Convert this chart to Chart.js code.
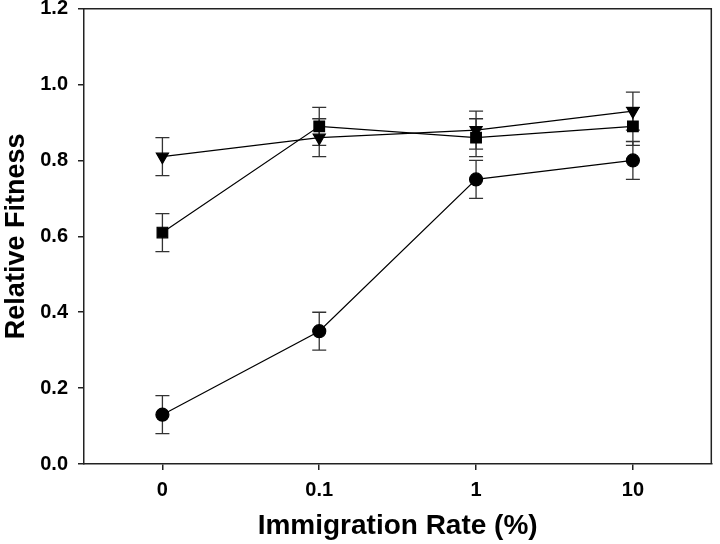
<!DOCTYPE html>
<html>
<head>
<meta charset="utf-8">
<script src="https://cdn.jsdelivr.net/npm/chart.js@4/dist/chart.umd.min.js"></script>
<style>
  html, body { margin: 0; padding: 0; background: #fff; }
  #wrap { width: 720px; height: 544px; }
</style>
</head>
<body>
<div id="wrap"><canvas id="myChart"></canvas></div>
<script>
// Data
const rates = ["0", "0.1", "1", "10"];
const circleVals = [0.13, 0.35, 0.75, 0.80];
const circleErr = [0.05, 0.05, 0.05, 0.05];
const squareVals = [0.61, 0.89, 0.86, 0.89];
const squareErr = [0.05, 0.05, 0.05, 0.05];
const triangleVals = [0.81, 0.86, 0.88, 0.93];
const triangleErr = [0.05, 0.05, 0.05, 0.05];
const yTicks = [0, 0.2, 0.4, 0.6, 0.8, 1.0, 1.2];

const axisColor = '#222';

// error bars + top/right frame
const errorBars = {
  id: 'errorBars',
  beforeDatasetsDraw(chart) {
    const ctx = chart.ctx;
    const yScale = chart.scales.y;
    ctx.save();
    ctx.strokeStyle = '#333';
    ctx.lineWidth = 1.3;
    chart.data.datasets.forEach((ds, i) => {
      const meta = chart.getDatasetMeta(i);
      meta.data.forEach((pt, j) => {
        const v = ds.data[j];
        const e = ds.errors[j];
        const yTop = yScale.getPixelForValue(v + e);
        const yBot = yScale.getPixelForValue(v - e);
        const x = pt.x;
        ctx.beginPath();
        ctx.moveTo(x, yTop); ctx.lineTo(x, yBot);
        ctx.moveTo(x - 7, yTop); ctx.lineTo(x + 7, yTop);
        ctx.moveTo(x - 7, yBot); ctx.lineTo(x + 7, yBot);
        ctx.stroke();
      });
    });
    ctx.restore();
  },
  afterDraw(chart) {
    const {left, right, top, bottom} = chart.chartArea;
    const ctx = chart.ctx;
    ctx.save();
    ctx.strokeStyle = axisColor;
    ctx.lineWidth = 1.5;
    ctx.beginPath();
    ctx.moveTo(left, top); ctx.lineTo(right, top); ctx.lineTo(right, bottom);
    ctx.stroke();
    ctx.restore();
  }
};

const common = {
  borderColor: '#000',
  backgroundColor: '#000',
  pointBackgroundColor: '#000',
  pointBorderColor: '#000',
  borderWidth: 1.2,
  fill: false,
  tension: 0
};

new Chart(document.getElementById('myChart'), {
  type: 'line',
  data: {
    labels: rates,
    datasets: [
      Object.assign({ label: 'circle', data: circleVals, errors: circleErr, pointStyle: 'circle', pointRadius: 6.5 }, common),
      Object.assign({ label: 'square', data: squareVals, errors: squareErr, pointStyle: 'rect', pointRadius: 7.5 }, common),
      Object.assign({ label: 'triangle', data: triangleVals, errors: triangleErr, pointStyle: 'triangle', pointRadius: 7, rotation: 180 }, common)
    ]
  },
  options: {
    responsive: true,
    maintainAspectRatio: false,
    animation: false,
    layout: { padding: { top: 8, right: 3, left: 0, bottom: 0 } },
    plugins: { legend: { display: false }, tooltip: { enabled: false } },
    scales: {
      x: {
        type: 'category',
        offset: true,
        afterFit: s => { s.height = 80; s.paddingLeft = 0; s.paddingRight = 0; },
        grid: { drawOnChartArea: false, tickLength: 6, color: axisColor, lineWidth: 1.5 },
        border: { color: axisColor, width: 1.5 },
        ticks: { color: '#000', padding: 10, font: { family: 'Liberation Sans, Arial', size: 20, weight: 'bold', lineHeight: 1 } },
        title: { display: true, text: 'Immigration Rate (%)', color: '#000', padding: { top: 0, bottom: 1 },
          font: { family: 'Liberation Sans, Arial', size: 28, weight: 'bold' } }
      },
      y: {
        min: 0,
        max: 1.2,
        afterFit: s => { s.width = 84; s.paddingTop = 0; s.paddingBottom = 0; },
        afterBuildTicks: s => { s.ticks = yTicks.map(v => ({ value: v })); },
        grid: { drawOnChartArea: false, tickLength: 6, color: axisColor, lineWidth: 1.5 },
        border: { color: axisColor, width: 1.5 },
        ticks: { color: '#000', padding: 10, callback: v => v.toFixed(1),
          font: { family: 'Liberation Sans, Arial', size: 20, weight: 'bold', lineHeight: 1 } },
        title: { display: true, text: 'Relative Fitness', color: '#000', padding: { top: 0, bottom: 0 },
          font: { family: 'Liberation Sans, Arial', size: 27, weight: 'bold' } }
      }
    }
  },
  plugins: [errorBars]
});
</script>
</body>
</html>
